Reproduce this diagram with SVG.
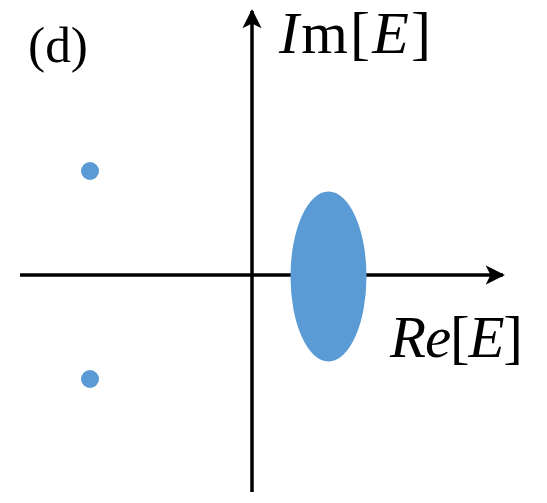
<svg xmlns="http://www.w3.org/2000/svg" width="547" height="503" viewBox="0 0 547 503">
<style>
.ax{stroke:#000;stroke-width:3.5;fill:none}
.pt{fill:#5b9bd5}
.t{font-family:"Liberation Serif","Times New Roman",serif;fill:#000}
.i{font-style:italic}
</style>
<defs>
<marker id="ah" viewBox="0 0 10 10" refX="9" refY="5" markerWidth="5.5" markerHeight="5.5" orient="auto" markerUnits="strokeWidth">
<path d="M0,0 L10,5 L0,10 L2.5,5 Z" fill="#000"/>
</marker>
</defs>
<rect width="547" height="503" fill="#fff"/>
<g id="connectors">
<line class="ax" x1="20" y1="275" x2="503" y2="275" marker-end="url(#ah)"/>
<line class="ax" x1="252" y1="492" x2="252" y2="11" marker-end="url(#ah)"/>
</g>
<g id="ellipse"><ellipse class="pt" cx="328.5" cy="276.5" rx="38" ry="85"/></g>
<g id="dot-top"><circle class="pt" cx="90" cy="171" r="9"/></g>
<g id="dot-bottom"><circle class="pt" cx="90" cy="379" r="9"/></g>
<g id="label-d"><text class="t" x="28" y="62" font-size="50" textLength="60" lengthAdjust="spacingAndGlyphs">(d)</text></g>
<g id="label-im"><text class="t" x="279" y="53" font-size="60" textLength="152" lengthAdjust="spacing"><tspan class="i">I</tspan>m[<tspan class="i">E</tspan>]</text></g>
<g id="label-re"><text class="t" x="390" y="357" font-size="59" textLength="133" lengthAdjust="spacing"><tspan class="i">Re</tspan>[<tspan class="i">E</tspan>]</text></g>
</svg>
